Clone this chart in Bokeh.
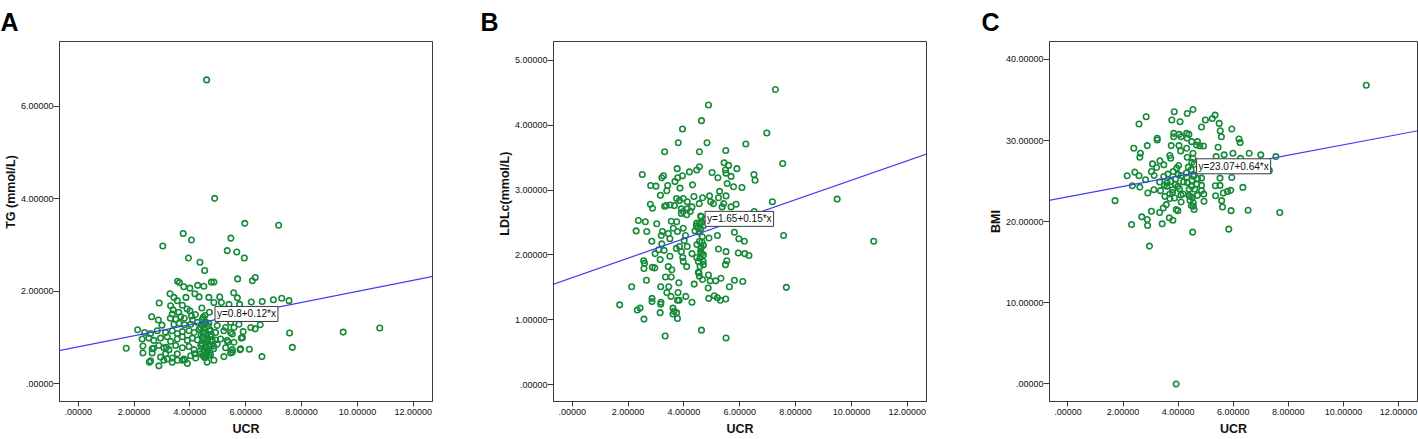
from bokeh.plotting import figure
from bokeh.layouts import row
from bokeh.models import Range1d, FixedTicker, Slope, Label
from bokeh.embed import file_html
from bokeh.resources import INLINE

FONT = "Liberation Sans"
GREEN = "#178a3a"
BLUE = "#3c3cf5"
EDGE = "#3a3a3a"
NBSP = "\u00a0"

x_ticks = [0, 2, 4, 6, 8, 10, 12]
x_tick_labels = [".00000", "2.00000", "4.00000", "6.00000", "8.00000", "10.00000", "12.00000"]

# ---------------- Panel A : TG ----------------
A_x = [4.60, 4.89, 5.97, 7.18, 3.76, 4.06, 5.47, 3.03, 5.34, 5.68, 5.95, 3.95, 4.36, 4.53, 5.71, 6.34,
       6.24, 3.56, 3.63, 4.77, 4.86, 4.28, 4.50, 4.00, 3.78, 3.29, 4.18, 5.57, 5.07, 5.70, 4.33, 4.68,
       6.99, 7.29, 7.55, 6.59, 6.20, 2.90, 3.43, 3.55, 3.86, 4.86, 5.13, 5.78, 5.40, 4.43, 3.31, 3.73,
       4.00, 4.70, 4.06, 2.63, 3.37, 3.67, 4.48, 2.87, 3.00, 3.43, 2.13, 2.38, 7.57, 9.49, 10.80, 6.52,
       6.34, 6.18, 5.91, 5.58, 5.84, 5.52, 5.10, 5.36, 7.67, 1.72, 2.32, 2.53, 2.70, 2.32, 2.55, 2.89,
       3.16, 2.95, 3.19, 3.55, 3.82, 4.17, 4.47, 5.22, 5.80, 6.13, 6.58, 5.52, 4.85,
       3.61, 3.81, 4.03, 4.27, 4.45, 4.68, 4.98, 5.28, 5.46, 5.76, 2.59, 2.83, 3.13, 3.37, 3.55, 3.73,
       3.97, 4.15, 4.33, 4.51, 4.74, 4.92, 5.22, 5.46, 2.29, 2.71, 2.95, 3.19, 3.31, 3.55, 3.73, 3.91,
       4.09, 4.27, 4.45, 4.62, 4.74, 4.92, 5.34, 5.58, 5.88, 2.65, 2.89, 3.07, 3.25, 3.49, 3.73, 3.97,
       4.15, 4.39, 4.57, 4.74, 4.98, 5.28, 5.52, 5.82, 2.65, 3.13, 3.37, 3.55, 3.79, 4.03, 4.21, 4.39,
       4.57, 4.74, 5.46, 2.59, 3.07, 3.37, 3.73, 3.91, 4.62, 4.86,
       4.45, 4.55, 4.60, 4.50, 4.65, 4.70, 4.40, 4.35, 4.80, 4.55, 4.60, 4.50, 4.70, 4.45, 3.40, 3.60,
       3.90, 4.20, 3.50, 3.80, 4.10, 3.30,
       4.52, 4.58, 4.63, 4.48, 4.66, 4.54, 4.42, 4.72, 4.57, 4.61, 4.50, 4.68, 4.38, 4.84, 4.53, 4.76]
A_y = [6.57, 4.01, 3.47, 3.43, 3.25, 3.11, 3.15, 2.98, 2.88, 2.85, 2.72, 2.72, 2.63, 2.45, 2.27, 2.30,
       2.23, 2.22, 2.19, 2.20, 2.20, 2.13, 2.11, 2.07, 2.10, 1.95, 1.95, 1.97, 1.88, 1.86, 1.88, 1.87,
       1.82, 1.85, 1.80, 1.78, 1.77, 1.75, 1.87, 1.80, 1.87, 1.76, 1.76, 1.72, 1.72, 1.64, 1.69, 1.70,
       1.58, 1.55, 1.47, 1.45, 1.51, 1.45, 1.44, 1.38, 1.27, 1.29, 1.17, 1.11, 1.10, 1.12, 1.21, 1.28,
       1.19, 1.22, 1.13, 1.22, 0.99, 1.08, 0.97, 0.90, 0.79, 0.77, 0.82, 0.99, 0.77, 0.67, 0.47, 0.39,
       0.79, 0.58, 0.54, 0.51, 0.52, 0.65, 0.62, 0.59, 0.74, 0.75, 0.59, 0.69, 0.76,
       1.31, 1.28, 1.29, 1.33, 1.26, 1.31, 1.26, 1.22, 1.33, 1.29, 1.09, 1.15, 1.11, 1.15, 1.09, 1.13,
       1.15, 1.11, 1.18, 1.11, 1.16, 1.11, 1.15, 1.11, 0.97, 0.94, 0.99, 1.02, 0.92, 0.97, 1.02, 0.94,
       0.99, 0.95, 1.00, 0.92, 1.02, 0.95, 0.94, 0.90, 1.00, 0.76, 0.83, 0.78, 0.74, 0.83, 0.78, 0.81,
       0.74, 0.83, 0.78, 0.81, 0.86, 0.78, 0.74, 0.76, 0.67, 0.65, 0.56, 0.65, 0.54, 0.61, 0.56, 0.65,
       0.58, 0.62, 0.67, 0.50, 0.51, 0.47, 0.51, 0.44, 0.47, 0.51,
       0.85, 0.90, 1.05, 1.20, 0.75, 1.15, 1.05, 0.70, 0.95, 1.35, 0.65, 0.60, 0.85, 1.40, 1.60, 1.55,
       1.62, 1.50, 1.40, 1.42, 1.38, 1.42,
       0.72, 0.80, 0.97, 1.10, 1.25, 1.48, 0.88, 0.68, 1.30, 0.93, 1.02, 0.63, 1.22, 0.82, 0.57, 1.07]
A_yticks = [0, 2, 4, 6]
A_ytick_labels = [".00000", "2.00000", "4.00000", "6.00000"]
A_fit = (0.8, 0.12)
A_eq = "y=0.8+0.12*x"

# ---------------- Panel B : LDLc ----------------
B_x = [7.28, 4.88, 4.63, 3.95, 6.97, 3.80, 4.83, 6.22, 3.31, 4.56, 5.50, 7.54, 5.44, 5.60, 4.56, 3.76,
       5.90, 5.49, 4.20, 4.46, 5.01, 5.51, 2.51, 6.51, 3.27, 3.21, 3.78, 5.22, 5.69, 3.95, 6.55, 3.68,
       5.55, 2.81, 3.00, 3.42, 4.31, 5.78, 6.08, 3.86, 3.39, 3.16, 4.36, 5.28, 5.51, 4.92, 4.67, 5.24,
       3.74, 3.98, 3.84, 4.12, 4.96, 7.17, 9.49, 2.80, 3.37, 3.50, 4.55, 5.06, 5.43, 5.87, 2.88, 3.31,
       3.66, 3.91, 4.12, 4.29, 5.37, 5.69, 6.52, 3.98, 4.23, 4.10, 3.91, 3.55, 2.37, 2.62, 3.03, 3.74,
       4.62, 4.46, 2.29, 2.67, 3.23, 3.62, 3.98, 3.77, 4.40, 5.81, 7.57, 3.44, 3.19, 4.06, 3.50, 4.90,
       5.20, 5.97, 2.85, 6.17, 10.80, 3.21, 4.56, 4.01, 4.47, 3.84, 4.70, 4.12, 3.73, 3.10, 3.29, 4.61,
       5.24, 3.91, 5.51, 5.95, 6.18, 6.33, 4.29, 2.97, 3.50, 3.96, 4.46, 4.70, 3.15, 2.56, 4.52, 5.54,
       2.59, 3.98, 4.69, 5.49, 2.87, 2.96, 3.44, 4.10, 4.58, 2.57, 3.57, 4.52, 4.56, 4.88, 3.55, 3.34,
       5.33, 4.67, 5.14, 4.94, 2.66, 5.81, 6.11, 3.82, 4.37, 2.13, 3.17, 3.46, 4.87, 5.63, 7.67, 3.79,
       3.39, 3.54, 4.07, 5.09, 5.20, 4.89, 5.31, 5.50, 3.77, 3.83, 2.86, 2.86, 3.18, 4.29, 3.17, 1.70,
       2.43, 2.33, 3.61, 3.65, 3.74, 3.15, 3.61, 3.77, 2.57, 4.63, 3.33, 5.51,
       4.45, 4.50, 4.55, 4.60, 4.65, 4.70, 4.75, 4.55, 4.65, 4.60,
       4.58, 4.62, 4.66, 4.54, 4.70, 4.60, 4.64]
B_y = [4.55, 4.31, 4.07, 3.94, 3.88, 3.73, 3.73, 3.71, 3.59, 3.59, 3.61, 3.41, 3.42, 3.38, 3.36, 3.33,
       3.33, 3.31, 3.28, 3.31, 3.27, 3.26, 3.24, 3.24, 3.22, 3.19, 3.19, 3.19, 3.21, 3.22, 3.15, 3.13,
       3.10, 3.07, 3.06, 3.07, 3.08, 3.05, 3.04, 3.03, 2.99, 2.92, 2.90, 2.98, 2.91, 2.91, 2.88, 2.88,
       2.87, 2.87, 2.84, 2.82, 2.82, 2.82, 2.86, 2.78, 2.76, 2.77, 2.79, 2.79, 2.79, 2.78, 2.72, 2.75,
       2.76, 2.71, 2.71, 2.74, 2.74, 2.74, 2.67, 2.67, 2.67, 2.62, 2.64, 2.52, 2.53, 2.51, 2.48, 2.51,
       2.59, 2.49, 2.37, 2.36, 2.36, 2.41, 2.41, 2.36, 2.37, 2.35, 2.30, 2.33, 2.30, 2.30, 2.25, 2.26,
       2.30, 2.25, 2.21, 2.21, 2.21, 2.17, 2.21, 2.22, 2.16, 2.13, 2.15, 2.13, 2.10, 2.08, 2.07, 2.10,
       2.09, 2.05, 2.05, 2.03, 2.02, 1.99, 2.02, 2.02, 1.98, 1.96, 1.96, 2.00, 1.93, 1.91, 1.90, 1.91,
       1.87, 1.90, 1.90, 1.85, 1.81, 1.80, 1.82, 1.82, 1.82, 1.79, 1.77, 1.73, 1.67, 1.69, 1.66, 1.66,
       1.64, 1.62, 1.60, 1.60, 1.61, 1.61, 1.59, 1.57, 1.55, 1.51, 1.51, 1.51, 1.49, 1.51, 1.50, 1.42,
       1.42, 1.36, 1.36, 1.37, 1.34, 1.33, 1.30, 1.32, 1.30, 1.30, 1.33, 1.28, 1.27, 1.27, 1.24, 1.23,
       1.18, 1.15, 1.18, 1.13, 1.11, 1.11, 1.09, 1.02, 1.01, 0.84, 0.75, 0.72,
       2.45, 2.42, 2.48, 2.40, 2.50, 2.45, 2.55, 2.35, 2.20, 2.05,
       1.95, 2.12, 2.28, 1.72, 1.85, 2.60, 2.02]
B_yticks = [0, 1, 2, 3, 4, 5]
B_ytick_labels = [".00000", "1.00000", "2.00000", "3.00000", "4.00000", "5.00000"]
B_fit = (1.65, 0.15)
B_eq = "y=1.65+0.15*x"

# ---------------- Panel C : BMI ----------------
C_x = [10.83, 3.93, 2.96, 4.53, 5.84, 2.31, 2.89, 3.42, 3.81, 3.68, 2.68, 2.88, 7.69, 3.03, 3.33, 3.93,
       3.99, 4.58, 5.92, 6.54, 3.46, 3.57, 1.71, 4.11, 4.43, 4.94, 4.55, 5.58, 5.61, 3.70, 3.87, 3.52,
       4.18, 4.39, 4.70, 5.36, 4.93, 2.90, 5.64, 5.79, 5.91, 3.12, 3.36, 3.80, 4.05, 2.34, 2.61, 3.59,
       3.99, 4.49, 4.85, 5.35, 5.52, 6.35, 4.68, 4.33, 3.33, 3.73, 2.82, 3.91, 4.32, 4.85, 5.52, 5.95,
       2.15, 2.58, 3.13, 3.48, 3.63, 3.82, 4.11, 4.58, 2.43, 3.03, 3.22, 3.48, 3.34, 3.07, 4.02, 4.37,
       4.58, 7.31, 7.00, 2.61, 3.73, 4.33, 4.54, 5.38, 5.67, 2.63, 3.70, 4.54, 5.99, 6.58, 7.00, 7.55,
       2.39, 2.88, 3.75, 4.03, 4.31, 4.67, 4.79, 4.92, 5.45, 4.09, 4.49, 4.70, 3.24, 3.24, 4.33, 3.84,
       4.11, 6.21, 6.25, 5.57, 3.84, 4.04, 4.31, 4.39, 5.53, 5.95, 4.85, 2.58, 5.49, 4.07, 3.77, 4.99,
       5.24, 2.84, 5.34, 4.33, 3.86, 4.54,
       3.60, 3.90, 4.20, 4.50, 3.80, 4.10, 4.40, 4.60, 3.50, 4.30, 4.70, 4.00, 3.70, 4.45, 4.85, 3.95,
       5.00, 5.30, 5.60, 6.27,
       4.48, 4.52, 4.56, 4.50, 4.47, 4.55]
C_y = [36.81, 0.00, 16.99, 18.71, 19.08, 19.65, 19.53, 19.73, 20.18, 20.47, 20.59, 20.26, 21.12, 21.28,
       21.12, 21.49, 21.36, 21.49, 21.36, 21.41, 21.69, 22.10, 22.59, 22.43, 22.63, 22.51, 22.30, 22.59,
       21.81, 22.84, 22.92, 23.12, 23.41, 23.24, 23.24, 23.20, 23.41, 23.53, 23.53, 23.73, 23.86, 23.94,
       23.82, 23.94, 24.06, 24.43, 24.26, 24.35, 24.35, 24.35, 24.47, 24.43, 24.47, 24.22, 24.63, 24.84,
       24.88, 24.96, 25.16, 25.25, 25.45, 25.37, 25.37, 25.45, 25.65, 25.65, 25.69, 25.57, 25.86, 26.18,
       25.69, 25.78, 26.10, 26.18, 26.67, 27.00, 27.49, 27.12, 26.92, 26.72, 27.08, 26.31, 26.80, 27.94,
       27.82, 27.94, 27.82, 28.02, 28.23, 28.43, 28.15, 28.43, 28.43, 28.43, 28.23, 28.02, 29.04, 29.37,
       29.37, 29.37, 29.04, 29.45, 29.33, 29.33, 29.17, 28.72, 29.86, 29.86, 30.27, 30.07, 30.27, 30.47,
       30.47, 30.19, 29.74, 30.47, 30.88, 30.76, 30.88, 30.76, 31.21, 31.41, 31.66, 32.03, 32.11, 32.31,
       32.52, 32.52, 32.72, 32.92, 33.13, 33.33, 33.54, 33.82,
       24.80, 24.60, 24.90, 25.10, 23.60, 23.30, 24.00, 24.00, 24.50, 26.00, 25.30, 25.80, 23.40, 23.10,
       23.80, 26.60, 26.80, 26.50, 27.00, 27.80,
       22.00, 23.00, 25.60, 27.30, 26.40, 21.90]
C_yticks = [0, 10, 20, 30, 40]
C_ytick_labels = [".00000", "10.00000", "20.00000", "30.00000", "40.00000"]
C_fit = (23.07, 0.64)
C_eq = "y=23.07+0.64*x"

X_RANGE = (-0.67, 12.69)
FIG_H = 439
TOP = 39
BOTTOM = 38


def make_panel(letter, xs, ys, ylabel, yrange, yticks, yticklabels, fit, eq, eq_pos,
               width, left, right, letter_offset, ylab_pad):
    p = figure(width=width, height=FIG_H, output_backend="svg", toolbar_location=None,
               x_range=Range1d(*X_RANGE), y_range=Range1d(*yrange),
               min_border_left=left, min_border_right=right,
               min_border_top=TOP, min_border_bottom=BOTTOM)
    p.background_fill_color = "white"
    p.border_fill_color = "white"
    p.outline_line_color = EDGE
    p.outline_line_width = 1
    p.xgrid.visible = False
    p.ygrid.visible = False

    p.title.text = letter
    p.title.text_font = FONT
    p.title.text_font_size = "25px"
    p.title.text_font_style = "bold"
    p.title.text_color = "black"
    p.title.align = "left"
    p.title.offset = letter_offset
    p.title.standoff = 11

    p.xaxis.ticker = FixedTicker(ticks=x_ticks)
    p.xaxis.major_label_overrides = dict(zip(x_ticks, x_tick_labels))
    p.yaxis.ticker = FixedTicker(ticks=yticks)
    p.yaxis.major_label_overrides = dict(zip(yticks, yticklabels))
    p.xaxis.axis_label = "UCR"
    # leading no-break spaces move the (centred) title up, as in the reference
    p.yaxis.axis_label = NBSP * ylab_pad + ylabel
    for ax in (p.xaxis, p.yaxis):
        ax.axis_line_color = EDGE
        ax.major_tick_line_color = EDGE
        ax.minor_tick_line_color = None
        ax.major_tick_in = 0
        ax.major_label_text_font = FONT
        ax.major_label_text_font_size = "9px"
        ax.major_label_text_color = "#111111"
        ax.axis_label_text_font = FONT
        ax.axis_label_text_font_size = "12.5px"
        ax.axis_label_text_font_style = "bold"
        ax.axis_label_text_color = "#111111"
    p.xaxis.major_tick_out = 5
    p.yaxis.major_tick_out = 6
    p.xaxis.major_label_standoff = 2
    p.yaxis.major_label_standoff = 0
    p.xaxis.axis_label_standoff = 4
    p.yaxis.axis_label_standoff = 0

    p.scatter(xs, ys, marker="circle", size=5.5, fill_color=None,
              line_color=GREEN, line_width=1.6)
    p.add_layout(Slope(gradient=fit[1], y_intercept=fit[0],
                       line_color=BLUE, line_width=1.2))
    p.add_layout(Label(x=eq_pos[0], y=eq_pos[1], text=eq, text_font=FONT,
                       text_font_size="10px", text_color="#111111",
                       background_fill_color="white", background_fill_alpha=1.0,
                       border_line_color=EDGE, border_line_width=1, padding=2))
    return p


pA = make_panel("A", A_x, A_y, "TG (mmol/L)", (-0.38, 7.40), A_yticks, A_ytick_labels,
                A_fit, A_eq, (4.90, 1.35), 470, 59, 38, -59, 17)
pB = make_panel("B", B_x, B_y, "LDLc(mmol/L)", (-0.26, 5.29), B_yticks, B_ytick_labels,
                B_fit, B_eq, (4.76, 2.44), 470, 83, 14, -73, 16)
pC = make_panel("C", C_x, C_y, "BMI", (-2.16, 42.2), C_yticks, C_ytick_labels,
                C_fit, C_eq, (4.67, 25.9), 478, 109, 1, -68, 0)

layout = row(pA, pB, pC)
open("out.html", "w").write(file_html(layout, INLINE))
